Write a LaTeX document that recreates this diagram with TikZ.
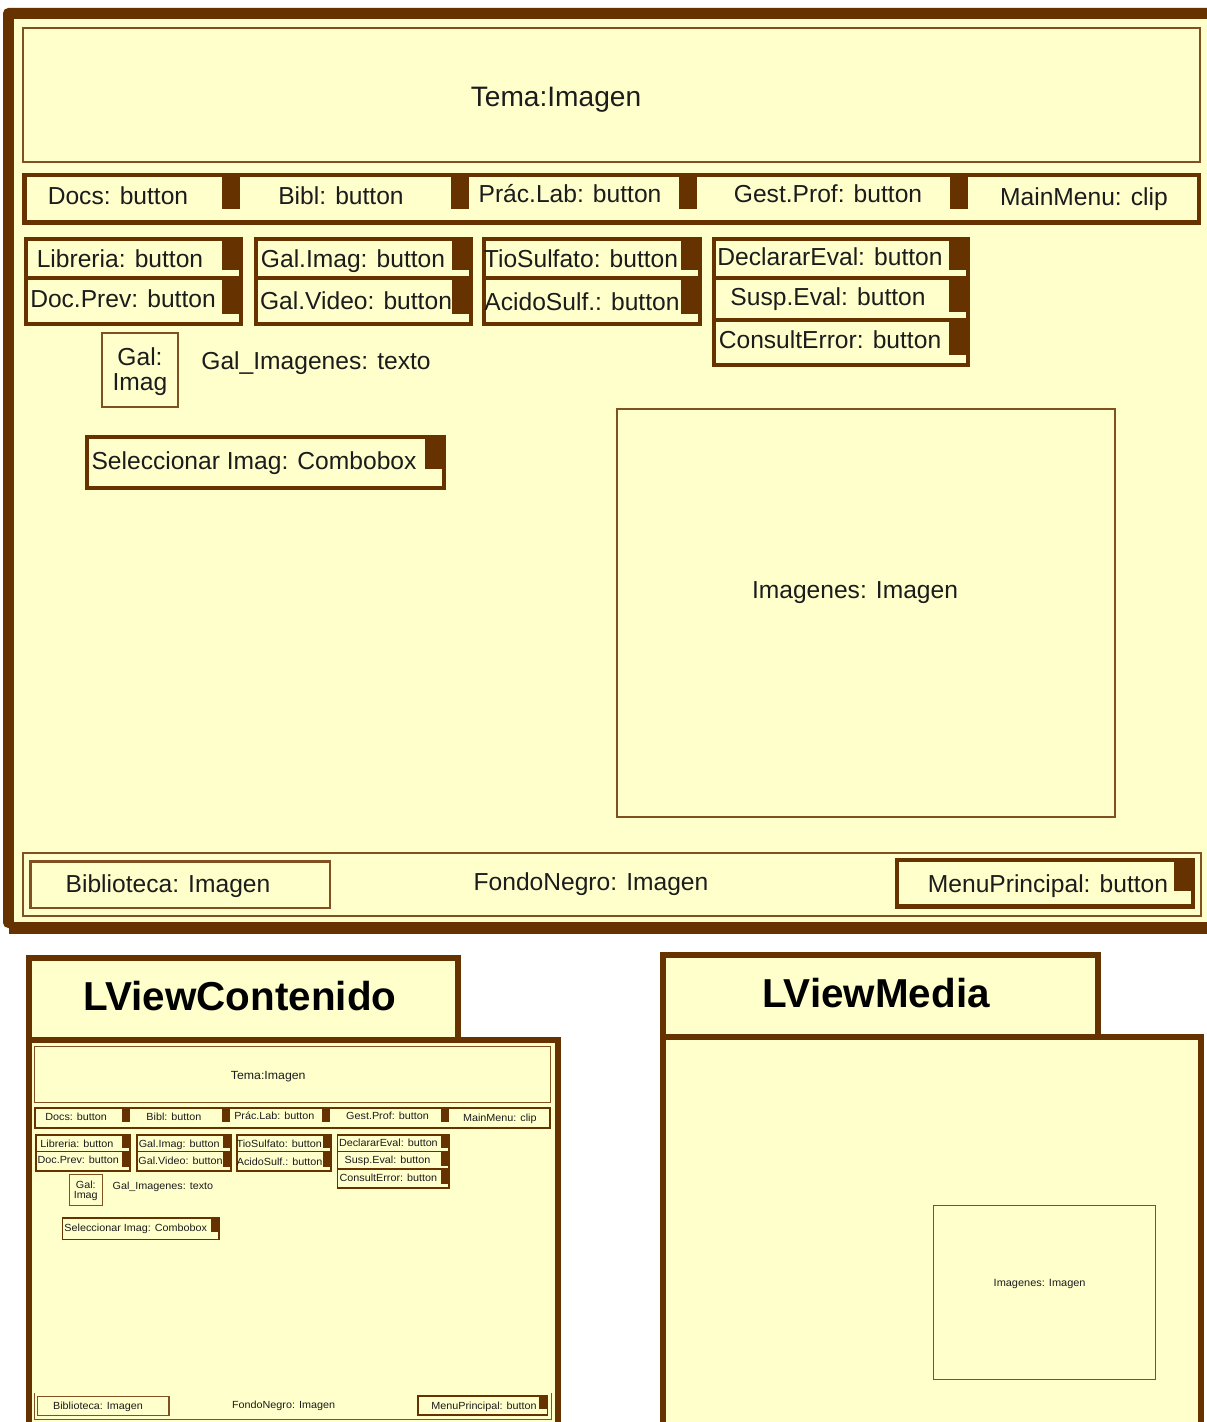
\documentclass[tikz,border=0pt]{standalone}
\usepackage{fontspec}
\setmainfont{Liberation Sans}

\definecolor{brn}{RGB}{102,51,0}
\definecolor{thinbrn}{RGB}{128,80,32}
\definecolor{paper}{RGB}{255,255,204}
\definecolor{ink}{RGB}{28,28,28}

\tikzset{
  lbl/.style={inner sep=0pt, text height=10pt, text depth=0pt, text=ink,
              font=\fontsize{14}{16}\selectfont},
  lblbig/.style={inner sep=0pt, text height=11.5pt, text depth=0pt, text=ink,
              font=\fontsize{16}{18}\selectfont},
  pkgtitle/.style={inner sep=0pt, text height=16.5pt, text depth=0pt, text=black,
              font=\bfseries\fontsize{23}{26}\selectfont},
}

% filled frame: colour, x0, y0, x1, y1, border thickness
\newcommand\mkFrameBox[6]{%
  \fill[#1] (#2,#3) rectangle (#4,#5);
  \fill[paper] (#2+#6,#3+#6) rectangle (#4-#6,#5-#6);}

% one button cell: light cell x0,y0,x1,y1 with a dark block at its right end down to y = #5
\newcommand\mkBtnCell[5]{%
  \fill[paper] (#1,#2) rectangle (#3,#4);
  \fill[brn] (#3-17,#2) rectangle (#3,#5);}

% contents of the screen (everything inside the outer window frame)
\newcommand\mkScreenBody{%
  % title banner
  \mkFrameBox{thinbrn}{22}{27}{1201}{163}{2}
  \node[lblbig] (tema) at (556,96) {Tema:Imagen};
  % top menu bar
  \mkFrameBox{brn}{22}{173}{1201}{225}{4.5}
  \foreach \sx in {222,451,679,950} {\fill[brn] (\sx,177) rectangle (\sx+18,209);}
  \node[lbl] (docs)  at (118,196) {Docs: button};
  \node[lbl] (bibl)  at (341,196) {Bibl: button};
  \node[lbl] (prac)  at (570,194) {Prác.Lab: button};
  \node[lbl] (gest)  at (828,194) {Gest.Prof: button};
  \node[lbl] (mainm) at (1084,197) {MainMenu: clip};
  % button group 1
  \fill[brn] (24,237) rectangle (243,326);
  \mkBtnCell{28}{241}{239}{276}{270}
  \mkBtnCell{28}{280}{239}{322}{314}
  \node[lbl] (libreria) at (120,259) {Libreria: button};
  \node[lbl] (docprev)  at (123,299) {Doc.Prev: button};
  % button group 2
  \fill[brn] (254,237) rectangle (473,326);
  \mkBtnCell{258}{241}{469}{276}{270}
  \mkBtnCell{258}{280}{469}{322}{314}
  \node[lbl] (galimag)  at (353,259) {Gal.Imag: button};
  \node[lbl] (galvideo) at (356,301) {Gal.Video: button};
  % button group 3
  \fill[brn] (482,237) rectangle (702,326);
  \mkBtnCell{486}{241}{698}{276}{270}
  \mkBtnCell{486}{280}{698}{322}{314}
  \node[lbl] (tiosulf) at (581,259) {TioSulfato: button};
  \node[lbl] (acido)   at (582,302) {AcidoSulf.: button};
  % button group 4
  \fill[brn] (712,237) rectangle (970,367);
  \mkBtnCell{716}{241}{966}{276}{270}
  \mkBtnCell{716}{280}{966}{318}{312}
  \mkBtnCell{716}{322}{966}{363}{355}
  \node[lbl] (declarar) at (830,257) {DeclararEval: button};
  \node[lbl] (susp)     at (828,297) {Susp.Eval: button};
  \node[lbl] (consult)  at (830,340) {ConsultError: button};
  % gallery icon and caption
  \mkFrameBox{thinbrn}{101}{332}{179}{408}{2}
  \node[lbl] (galicoA) at (140,357) {Gal:};
  \node[lbl] (galicoB) at (140,382) {Imag};
  \node[lbl] (galtxt)  at (316,361) {Gal\_Imagenes: texto};
  % combobox
  \fill[brn] (85,435) rectangle (446,490);
  \mkBtnCell{89}{439}{442}{486}{469}
  \node[lbl] (combo) at (254,461) {Seleccionar Imag: Combobox};
  % bottom bar
  \mkFrameBox{thinbrn}{22}{852}{1202}{917}{2}
  \mkFrameBox{thinbrn}{29}{860}{331}{909}{2.5}
  \node[lbl] (biblio) at (168,884) {Biblioteca: Imagen};
  \node[lbl] (fondo)  at (591,882) {FondoNegro: Imagen};
  \fill[brn] (895,858) rectangle (1195,909);
  \mkBtnCell{899}{862}{1191}{904}{891}
  \node[lbl] (menup) at (1048,884) {MenuPrincipal: button};
}

% image area
\newcommand\mkImageArea{%
  \mkFrameBox{thinbrn}{616}{408}{1116}{818}{2}
  \node[lbl] (imagenes) at (855,590) {Imagenes: Imagen};
}

\begin{document}
\begin{tikzpicture}[x=0.02cm, y=-0.02cm]
  \useasboundingbox (0,0) rectangle (1206,1422);
  \fill[white] (0,0) rectangle (1206,1422);

  % ---- main window ----
  \fill[brn] (9,15) rectangle (1230,934);
  \fill[brn, rounded corners=3] (3,8) rectangle (1230,928);
  \fill[paper] (14,19) rectangle (1220,922);
  \mkScreenBody
  \mkImageArea

  % ---- package LViewContenido ----
  \mkFrameBox{brn}{26}{955}{461}{1043}{6}
  \mkFrameBox{brn}{26}{1037}{561}{1450}{6}
  \node[pkgtitle] (lvc) at (240,996) {LViewContenido};
  \begin{scope}[shift={(24.35,1034.66)}, xscale=0.4386, yscale=0.42,
                name prefix=mini-, every node/.append style={transform shape}]
    \mkScreenBody
  \end{scope}

  % ---- package LViewMedia ----
  \mkFrameBox{brn}{660}{952}{1101}{1040}{6}
  \mkFrameBox{brn}{660}{1034}{1204}{1450}{6}
  \node[pkgtitle] (lvm) at (876,993) {LViewMedia};
  \begin{scope}[shift={(658.3,1030.8)}, xscale=0.446, yscale=0.427,
                name prefix=media-, every node/.append style={transform shape}]
    \mkImageArea
  \end{scope}
\end{tikzpicture}
\end{document}
